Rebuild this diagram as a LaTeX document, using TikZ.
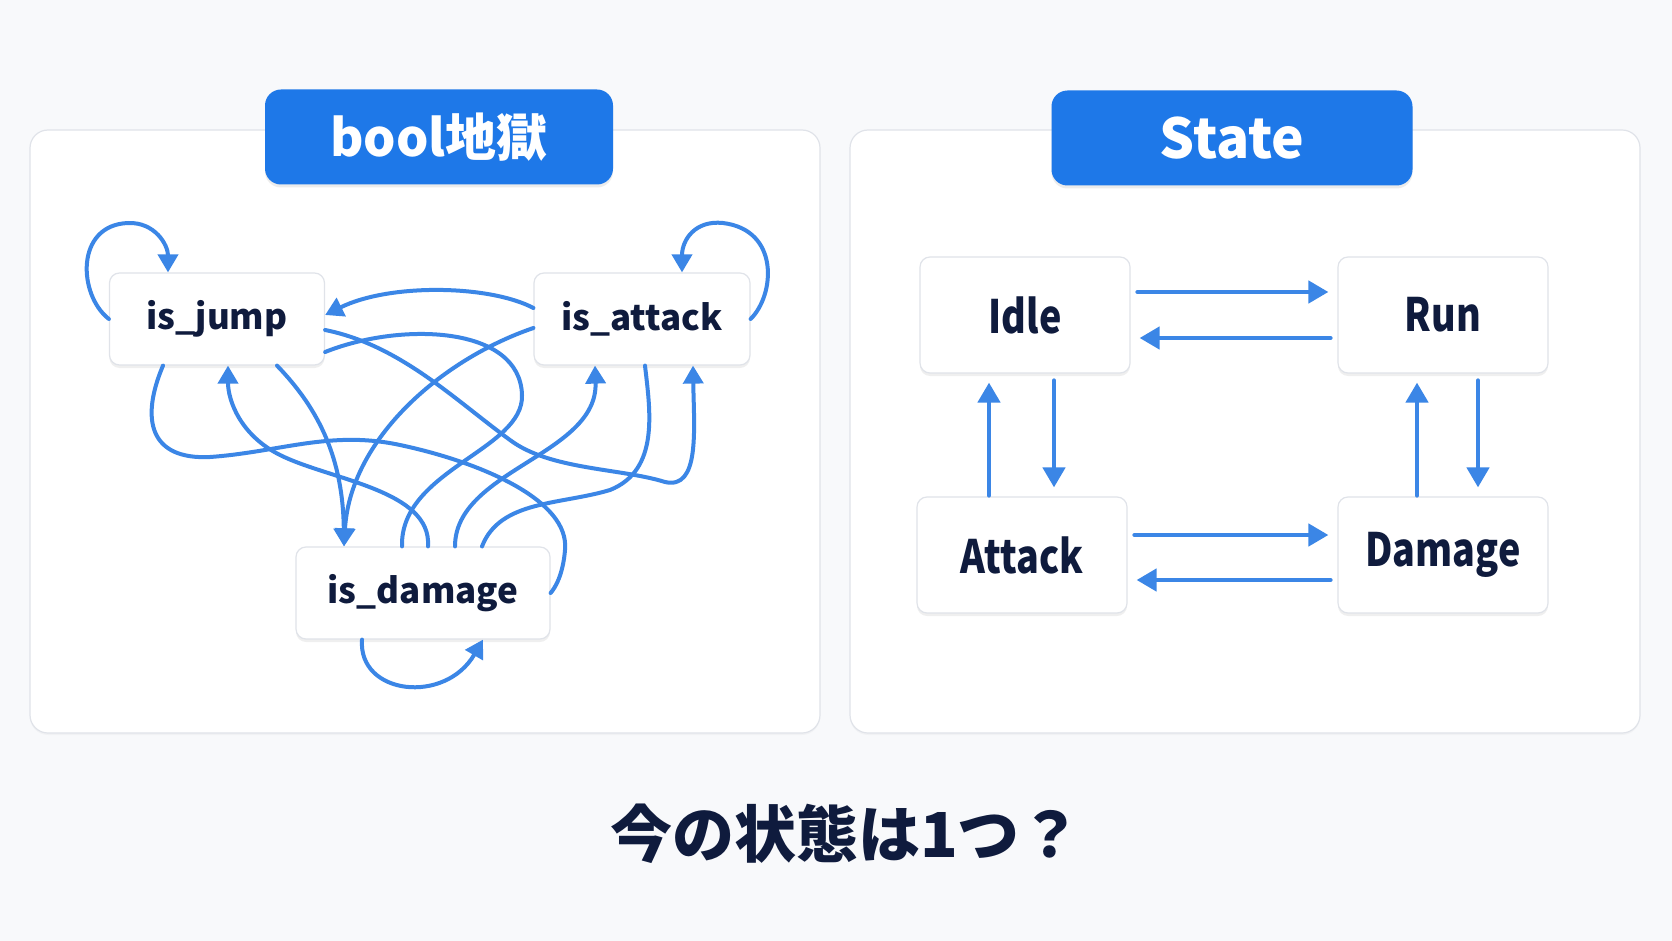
\documentclass[tikz,border=0pt]{standalone}
\usepackage{fontspec}
\setmainfont{Noto Sans CJK JP}
\newfontfamily\cjk{Noto Sans CJK JP}
\newfontfamily\narrow{Noto Sans CJK JP}[FakeStretch=0.82]
\usetikzlibrary{arrows.meta,shadows}
\definecolor{blau}{RGB}{30,120,232}
\definecolor{xanh}{RGB}{59,134,230}
\definecolor{muc}{RGB}{15,27,61}
\definecolor{nen}{RGB}{248,249,251}
\definecolor{vien}{RGB}{224,227,233}
\begin{document}
\begin{tikzpicture}[x=1pt, y=-1pt, line join=round, line cap=round,
	khung/.style={draw=vien, line width=1.2pt, fill=white, rounded corners=18pt},
	nut/.style={draw=vien, line width=1.2pt, fill=white, rounded corners=10pt, inner sep=0pt, text=muc,
		drop shadow={shadow xshift=0pt, shadow yshift=-3pt, opacity=0.12}},
	trai/.style={nut, minimum height=92pt, font=\cjk\bfseries\fontsize{35}{38}\selectfont},
	phai/.style={nut, minimum width=210pt, minimum height=116pt, font=\narrow\bfseries\fontsize{46}{50}\selectfont},
	tieude/.style={fill=blau, rounded corners=16pt, text=white, minimum height=95pt,
		drop shadow={shadow xshift=0pt, shadow yshift=-3pt, opacity=0.15}},
	day/.style={draw=xanh, line width=4pt},
	mui/.style={day, -{Triangle[length=18pt,width=20pt]}},
	thang/.style={draw=xanh, line width=4.5pt, -{Triangle[length=20pt,width=22pt]}, shorten <=7pt, shorten >=9pt}]
	\fill[nen] (0,0) rectangle (1672,941);
	\useasboundingbox (0,0) rectangle (1672,941);
	% hai khung
	\draw[khung, drop shadow={shadow xshift=0pt, shadow yshift=-2pt, opacity=0.05}] (30,130) rectangle (820,733);
	\draw[khung, drop shadow={shadow xshift=0pt, shadow yshift=-2pt, opacity=0.05}] (850,130) rectangle (1640,733);
	\node[tieude, minimum width=348pt, font=\cjk\bfseries\fontsize{51}{56}\selectfont] (t1) at (439,137) {bool地獄};
	\node[tieude, minimum width=361pt, font=\cjk\bfseries\fontsize{55}{60}\selectfont] (t2) at (1232,138) {State};
	% bool
	\node[trai, minimum width=215pt] (jump) at (217,319) {is\_jump};
	\node[trai, minimum width=216pt] (attack) at (642,319) {is\_attack};
	\node[trai, minimum width=254pt] (damage) at (423,593) {is\_damage};
	\draw[mui] (jump.west) .. controls (78,295) and (75,225) .. (128,223) .. controls (155,222) and (168,245) .. ([xshift=-49pt]jump.north);
	\draw[mui] (attack.east) .. controls (775,295) and (780,230) .. (723,223) .. controls (695,220) and (682,240) .. ([xshift=40pt]attack.north);
	\draw[mui] ([xshift=-61pt]damage.south) .. controls (358,695) and (445,705) .. ([xshift=60pt]damage.south);
	\draw[mui] ([yshift=11pt]attack.west) .. controls (490,285) and (390,283) .. ([yshift=4pt]jump.east);
	\draw[mui] ([yshift=-11pt]jump.east) .. controls (400,345) and (455,400) .. (510,440) .. controls (550,470) and (620,468) .. (665,482) .. controls (700,490) and (694,430) .. ([xshift=51pt]attack.south);
	\draw[day] ([yshift=-33pt]jump.east) .. controls (400,322) and (520,325) .. (522,395) .. controls (524,450) and (400,470) .. ([xshift=-21pt]damage.north);
	\draw[mui] ([yshift=-9pt]attack.west) .. controls (440,360) and (350,440) .. ([xshift=-79pt]damage.north);
	\draw[mui] ([xshift=60pt]jump.south) .. controls (320,410) and (343,460) .. ([xshift=-79pt]damage.north);
	\draw[mui] ([xshift=5pt]damage.north) .. controls (432,490) and (330,480) .. (280,455) .. controls (240,435) and (228,400) .. ([xshift=11pt]jump.south);
	\draw[day] ([xshift=-54pt]jump.south) .. controls (140,420) and (150,460) .. (210,457) .. controls (280,452) and (330,430) .. (400,445) .. controls (480,462) and (570,500) .. (565,550) .. controls (563,575) and (555,588) .. (damage.east);
	\draw[mui] ([xshift=32pt]damage.north) .. controls (455,470) and (598,455) .. ([xshift=-47pt]attack.south);
	\draw[day] ([xshift=59pt]damage.north) .. controls (500,500) and (560,505) .. (610,490) .. controls (660,470) and (650,410) .. ([xshift=3pt]attack.south);
	% state
	\node[phai] (Idle) at (1025,315) {Idle};
	\node[phai] (Run) at (1443,315) {Run};
	\node[phai] (Attack) at (1022,555) {Attack};
	\node[phai] (Damage) at (1443,555) {Damage};
	\draw[thang] ([yshift=23pt]Idle.east) -- ([yshift=23pt]Run.west);
	\draw[thang] ([yshift=-23pt]Run.west) -- ([yshift=-23pt]Idle.east);
	\draw[thang] ([yshift=20pt]Attack.east) -- ([yshift=20pt]Damage.west);
	\draw[thang] ([yshift=-25pt]Damage.west) -- ([yshift=-25pt]Attack.east);
	\draw[thang] ([xshift=29pt]Idle.south) -- ([xshift=29pt]Idle.south |- Attack.north);
	\draw[thang, shorten <=1pt] ([xshift=-36pt]Idle.south |- Attack.north) -- ([xshift=-36pt]Idle.south);
	\draw[thang] ([xshift=35pt]Run.south) -- ([xshift=35pt]Run.south |- Damage.north);
	\draw[thang, shorten <=1pt] ([xshift=-26pt]Run.south |- Damage.north) -- ([xshift=-26pt]Run.south);
	\node[text=muc, font=\cjk\bfseries\fontsize{62}{70}\selectfont] (hoi) at (846,834) {今の状態は1つ？};
\end{tikzpicture}
\end{document}
